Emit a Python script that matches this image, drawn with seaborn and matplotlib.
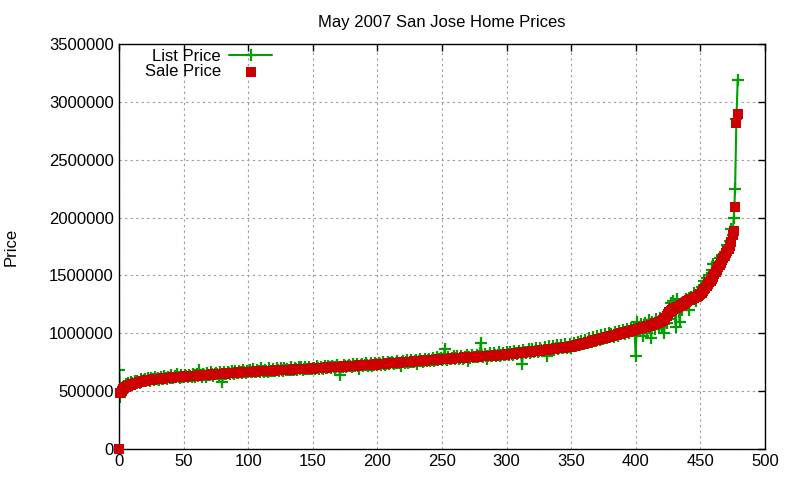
import seaborn as sns
import matplotlib.pyplot as plt
import numpy as np
import pandas as pd

# Prices in thousands of dollars, homes sorted by sale price
sale_k = [
    0, 480, 500, 515, 525, 535, 540, 545, 550, 555, 560, 563, 566, 569, 572, 575, 578, 581, 584, 587,
    590, 592, 594, 596, 597, 599, 600, 601, 603, 604, 605, 606, 607, 608, 609, 610, 611, 612, 613, 614,
    615, 616, 617, 618, 619, 620, 621, 622, 623, 624, 625, 626, 627, 627, 628, 629, 630, 631, 632, 632,
    633, 634, 635, 636, 637, 637, 638, 639, 640, 641, 641, 642, 643, 644, 645, 645, 646, 647, 648, 649,
    649, 650, 651, 652, 653, 653, 654, 655, 656, 657, 657, 658, 659, 660, 660, 661, 662, 663, 664, 664,
    665, 666, 666, 667, 667, 668, 669, 669, 670, 670, 671, 672, 672, 673, 673, 674, 675, 675, 676, 676,
    677, 678, 678, 679, 679, 680, 681, 681, 682, 682, 683, 684, 684, 685, 685, 686, 687, 687, 688, 688,
    689, 690, 690, 691, 691, 692, 693, 693, 694, 694, 695, 696, 696, 697, 698, 699, 699, 700, 701, 701,
    702, 703, 704, 704, 705, 706, 706, 707, 708, 709, 709, 710, 711, 711, 712, 713, 714, 714, 715, 716,
    716, 717, 718, 719, 719, 720, 721, 721, 722, 723, 724, 724, 725, 726, 726, 727, 728, 729, 729, 730,
    731, 732, 733, 733, 734, 735, 736, 737, 738, 739, 740, 741, 742, 742, 743, 744, 745, 746, 747, 748,
    749, 750, 751, 751, 752, 753, 754, 755, 756, 757, 758, 759, 760, 760, 761, 762, 763, 764, 765, 766,
    767, 768, 769, 769, 770, 771, 772, 773, 774, 775, 775, 776, 777, 778, 779, 779, 780, 781, 782, 783,
    783, 784, 785, 786, 787, 787, 788, 789, 790, 791, 791, 792, 793, 794, 795, 795, 796, 797, 798, 799,
    799, 800, 801, 802, 803, 803, 804, 805, 806, 807, 807, 808, 809, 810, 811, 811, 812, 813, 814, 815,
    816, 817, 818, 820, 821, 822, 824, 825, 826, 828, 829, 830, 832, 833, 834, 836, 837, 838, 840, 841,
    842, 844, 845, 846, 848, 849, 850, 852, 853, 854, 856, 857, 858, 860, 861, 863, 865, 867, 869, 871,
    872, 873, 874, 875, 876, 877, 878, 879, 880, 881, 882, 885, 888, 891, 895, 898, 901, 904, 907, 910,
    913, 916, 919, 922, 925, 928, 931, 934, 937, 940, 943, 946, 949, 952, 955, 958, 961, 964, 967, 970,
    972, 975, 978, 981, 984, 987, 990, 993, 996, 999, 1002, 1005, 1008, 1011, 1014, 1017, 1020, 1023, 1026, 1029,
    1032, 1035, 1038, 1041, 1044, 1047, 1050, 1053, 1056, 1059, 1062, 1066, 1070, 1074, 1078, 1082, 1086, 1090, 1094, 1098,
    1102, 1110, 1120, 1135, 1150, 1165, 1180, 1190, 1200, 1210, 1215, 1220, 1225, 1230, 1235, 1240, 1245, 1250, 1260, 1270,
    1280, 1285, 1290, 1295, 1300, 1305, 1310, 1315, 1320, 1330, 1335, 1350, 1365, 1380, 1395, 1410, 1425, 1440, 1455, 1470,
    1490, 1510, 1530, 1550, 1570, 1590, 1610, 1630, 1650, 1670, 1690, 1710, 1730, 1750, 1790, 1850, 1880, 2090, 2820, 2900,
]

list_k = [
    680, 450, 520, 500, 540, 560, 530, 565, 550, 575, 570, 560, 585, 569, 590, 580, 570, 600, 584, 595,
    600, 585, 610, 596, 590, 615, 600, 595, 625, 604, 612, 598, 620, 608, 600, 630, 611, 605, 625, 614,
    640, 616, 610, 630, 619, 645, 621, 615, 635, 624, 618, 640, 627, 620, 638, 629, 625, 645, 632, 620,
    645, 634, 680, 636, 625, 650, 638, 620, 655, 641, 635, 660, 643, 630, 645, 655, 646, 640, 660, 649,
    580, 660, 651, 645, 665, 653, 648, 670, 656, 650, 675, 658, 652, 670, 660, 655, 680, 663, 658, 675,
    665, 680, 660, 667, 690, 668, 662, 680, 670, 665, 695, 672, 665, 685, 673, 668, 700, 675, 670, 690,
    677, 672, 695, 679, 670, 700, 681, 675, 695, 682, 690, 684, 678, 705, 685, 680, 700, 687, 682, 710,
    689, 705, 684, 691, 710, 692, 686, 705, 694, 688, 700, 696, 690, 715, 698, 692, 705, 700, 694, 715,
    702, 697, 720, 704, 698, 715, 706, 700, 708, 722, 709, 640, 711, 705, 725, 713, 707, 714, 728, 716,
    710, 730, 718, 712, 735, 720, 690, 721, 735, 716, 724, 740, 725, 718, 726, 740, 720, 729, 745, 730,
    724, 745, 733, 726, 750, 735, 728, 737, 752, 730, 740, 755, 742, 735, 743, 760, 738, 746, 720, 748,
    760, 743, 751, 765, 745, 753, 768, 755, 748, 757, 772, 730, 760, 775, 761, 755, 763, 778, 758, 766,
    780, 760, 769, 785, 763, 771, 790, 765, 774, 788, 768, 776, 860, 778, 772, 795, 780, 774, 782, 800,
    776, 784, 800, 780, 787, 805, 781, 789, 790, 810, 760, 792, 787, 812, 795, 790, 796, 815, 790, 799,
    915, 800, 795, 820, 803, 780, 804, 825, 799, 807, 830, 808, 800, 810, 835, 805, 812, 830, 814, 808,
    835, 817, 810, 840, 821, 815, 845, 825, 818, 828, 850, 830, 735, 855, 834, 828, 837, 860, 832, 841,
    865, 836, 845, 870, 840, 849, 875, 852, 845, 854, 880, 800, 858, 885, 853, 863, 890, 858, 869, 895,
    865, 872, 900, 875, 868, 905, 878, 870, 880, 910, 875, 885, 915, 891, 888, 925, 901, 895, 935, 910,
    905, 945, 919, 912, 955, 928, 920, 965, 937, 930, 975, 946, 940, 985, 955, 948, 990, 964, 958, 1000,
    965, 990, 978, 970, 1010, 987, 980, 1015, 996, 990, 1030, 1005, 995, 1040, 1014, 1005, 1045, 1023, 1015, 1050,
    800, 1100, 1038, 1020, 1080, 1047, 980, 1090, 1056, 1000, 1110, 1066, 960, 1100, 1078, 1040, 1120, 1090, 1060, 1130,
    1060, 1110, 1000, 1135, 1090, 1165, 1120, 1260, 1200, 1280, 1215, 1050, 1300, 1230, 1100, 1240, 1200, 1250, 1260, 1300,
    1280, 1200, 1290, 1310, 1300, 1350, 1310, 1280, 1320, 1370, 1335, 1400, 1365, 1450, 1395, 1480, 1425, 1500, 1455, 1550,
    1600, 1510, 1530, 1620, 1570, 1650, 1610, 1680, 1650, 1700, 1690, 1760, 1730, 1800, 1900, 1850, 2000, 2250, 2850, 3190,
]

x_ticks = list(range(0, 501, 50))
y_ticks = list(range(0, 3500001, 500000))

df = pd.DataFrame({
    'home': np.arange(len(sale_k)),
    'list': np.array(list_k) * 1000,
    'sale': np.array(sale_k) * 1000,
})

sns.set_style('white')
plt.rcParams['font.family'] = ['Liberation Sans', 'DejaVu Sans']
plt.rcParams['font.size'] = 12
plt.rcParams['text.color'] = 'black'
plt.rcParams['axes.labelcolor'] = 'black'

fig = plt.figure(figsize=(8, 4.8), dpi=100)
ax = fig.add_axes([0.149, 0.065, 0.807, 0.843])

green = '#00a000'
red = '#cc0000'

sns.lineplot(data=df, x='home', y='list', ax=ax, color=green, lw=1.5,
             marker='+', markersize=8, markeredgewidth=1.6, markeredgecolor=green,
             label='List Price', zorder=2)
sns.scatterplot(data=df, x='home', y='sale', ax=ax, color=red, marker='s', s=48,
                linewidth=0, label='Sale Price', zorder=3, clip_on=False)

ax.set_xlim(0, 500)
ax.set_ylim(0, 3500000)
ax.set_xticks(x_ticks)
ax.set_yticks(y_ticks)
ax.set_yticklabels([str(v) for v in y_ticks])
ax.set_xlabel('')
ax.set_ylabel('Price', labelpad=22, color='black')
ax.set_title('May 2007 San Jose Home Prices', fontsize=12, pad=12, color='black')

ax.grid(True, color='#999999', linestyle=(0, (2, 3)), linewidth=0.8)
ax.tick_params(direction='in', length=5, width=1, top=True, right=True,
               labelsize=12, pad=4, colors='black')
for s in ax.spines.values():
    s.set_color('black')
    s.set_linewidth(1)

leg = ax.legend(loc='upper left', bbox_to_anchor=(0.024, 1.012), frameon=False,
                markerfirst=False, handlelength=2.6, handletextpad=0.5,
                labelspacing=0.0, borderaxespad=0.2, fontsize=12)
for t in leg.get_texts():
    t.set_color('black')

fig.savefig('out.png', dpi=100)
